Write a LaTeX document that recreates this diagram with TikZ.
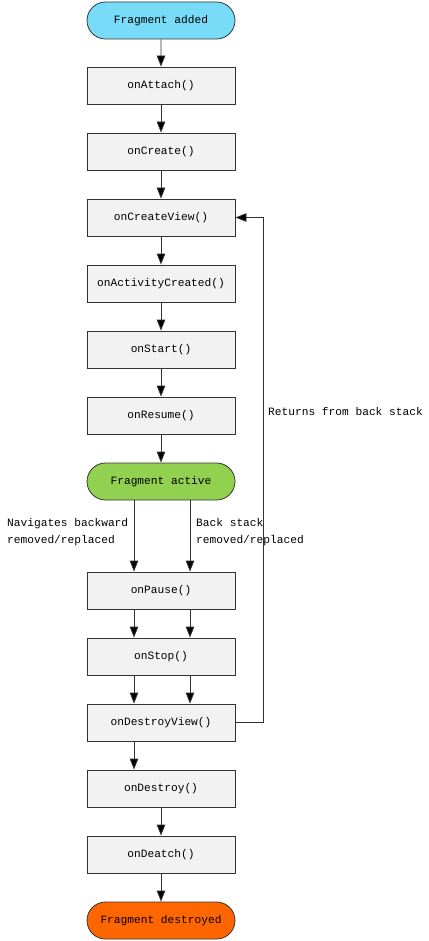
\documentclass[tikz,border=0pt]{standalone}
\usepackage{fontspec}
\setmonofont{Liberation Mono}
\usetikzlibrary{arrows.meta,shapes.misc}
\definecolor{boxfill}{RGB}{242,242,242}
\definecolor{edge}{RGB}{51,51,51}
\definecolor{cyanfill}{RGB}{120,220,248}
\definecolor{greenfill}{RGB}{146,208,80}
\definecolor{orangefill}{RGB}{255,102,0}
\begin{document}
\begin{tikzpicture}[x=1pt,y=-1pt,
  every node/.style={font=\ttfamily\fontsize{11.2}{13}\selectfont},
  stepbox/.style={draw=edge,fill=boxfill,line width=0.8pt,minimum width=148pt,minimum height=37pt,inner sep=0pt},
  termbox/.style={draw=edge,line width=0.8pt,rounded rectangle,minimum width=148pt,minimum height=37pt,inner sep=0pt},
  arr/.style={draw=edge,line width=0.8pt,-{Triangle[length=11pt,width=8.5pt,fill=black]}},
  lbl/.style={align=left,anchor=north west,inner sep=0pt,font=\ttfamily\fontsize{11.2}{17}\selectfont}]
\useasboundingbox (0,0) rectangle (428,941);
\node[termbox,fill=cyanfill] (added) at (161,20.5) {Fragment added};
\node[stepbox] (attach) at (161,85.5) {onAttach()};
\node[stepbox] (create) at (161,151.5) {onCreate()};
\node[stepbox] (cview) at (161,217.5) {onCreateView()};
\node[stepbox] (actc) at (161,283.5) {onActivityCreated()};
\node[stepbox] (start) at (161,349.5) {onStart()};
\node[stepbox] (resume) at (161,415.5) {onResume()};
\node[termbox,fill=greenfill] (active) at (161,481.5) {Fragment active};
\node[stepbox] (pause) at (161,590.5) {onPause()};
\node[stepbox] (stop) at (161,656.5) {onStop()};
\node[stepbox] (dview) at (161,722.5) {onDestroyView()};
\node[stepbox] (destroy) at (161,788.5) {onDestroy()};
\node[stepbox] (deatch) at (161,854.5) {onDeatch()};
\node[termbox,fill=orangefill] (destroyed) at (161,920.5) {Fragment destroyed};
\draw[arr] (added) -- (attach);
\draw[arr] (attach) -- (create);
\draw[arr] (create) -- (cview);
\draw[arr] (cview) -- (actc);
\draw[arr] (actc) -- (start);
\draw[arr] (start) -- (resume);
\draw[arr] (resume) -- (active);
\draw[arr] (active.south -| 134,0) -- (pause.north -| 134,0);
\draw[arr] (active.south -| 190,0) -- (pause.north -| 190,0);
\draw[arr] (pause.south -| 134,0) -- (stop.north -| 134,0);
\draw[arr] (pause.south -| 190,0) -- (stop.north -| 190,0);
\draw[arr] (stop.south -| 134,0) -- (dview.north -| 134,0);
\draw[arr] (stop.south -| 190,0) -- (dview.north -| 190,0);
\draw[arr] (dview.south -| 134,0) -- (destroy.north -| 134,0);
\draw[arr] (destroy) -- (deatch);
\draw[arr] (deatch) -- (destroyed);
\coordinate (loopx) at (263,0);
\draw[arr] (dview.east) -- (dview.east -| loopx) -- (cview.east -| loopx) -- (cview.east);
\node[lbl] (nav) at (7,518) {Navigates backward\\removed/replaced};
\node[lbl] (back) at (196,518) {Back stack\\removed/replaced};
\node[lbl] (ret) at (268,407) {Returns from back stack};
\end{tikzpicture}
\end{document}
